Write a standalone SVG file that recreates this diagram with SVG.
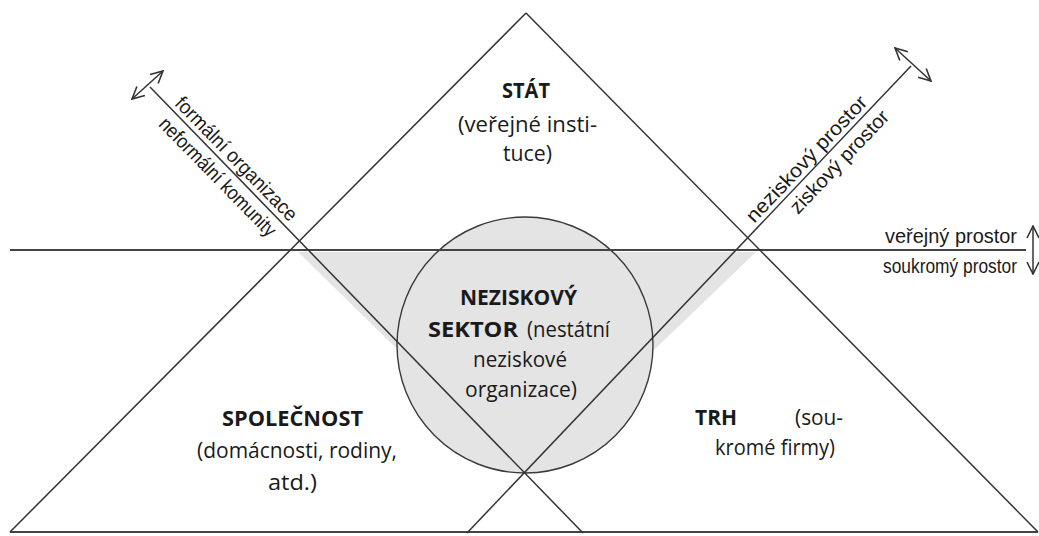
<svg xmlns="http://www.w3.org/2000/svg" width="1039" height="536" viewBox="0 0 1039 536">
<style>
.ln{stroke:#333;stroke-width:1.5;fill:none}
.hl{stroke:#444;stroke-width:2;fill:none}
.ar{stroke:#333;stroke-width:1.5;fill:none;marker-start:url(#ah);marker-end:url(#ah)}
.t{font-family:"Open Sans","Noto Sans",sans-serif;font-size:22px;fill:#1a1a1a}
.b{font-weight:bold}
.sm{font-size:21px}
.s{font-family:"Liberation Sans",Arial,sans-serif;font-size:20px;fill:#1a1a1a}
</style>
<defs>
<marker id="ah" viewBox="0 0 14 14" refX="13" refY="7" markerWidth="14" markerHeight="14" markerUnits="userSpaceOnUse" orient="auto-start-reverse">
<path d="M1,1 L13,7 L1,13" fill="none" stroke="#333" stroke-width="1.6"/>
</marker>
</defs>
<rect width="1039" height="536" fill="#fff"/>
<g id="shading">
<polygon points="298,252 756,252 525,474" fill="#e4e4e4"/>
</g>
<g id="neziskovy-sektor-shape">
<circle cx="525" cy="345" r="128" fill="#e4e4e4" stroke="#3a3a3a" stroke-width="1.4"/>
</g>
<g id="connectors">
<line class="hl" x1="10" y1="250" x2="1026" y2="250"/>
<line class="hl" x1="10" y1="532" x2="1038" y2="532"/>
<line class="ln" x1="526" y1="13" x2="10" y2="532"/>
<line class="ln" x1="526" y1="13" x2="1038" y2="532"/>
<line class="ln" x1="150" y1="87" x2="583" y2="533"/>
<line class="ln" x1="911" y1="66" x2="467" y2="533"/>
<line class="ar" x1="132" y1="99" x2="163" y2="71"/>
<line class="ar" x1="895" y1="48" x2="931" y2="81"/>
<line class="ar" x1="1033" y1="226" x2="1033" y2="274"/>
</g>
<g id="stat">
<text class="t b" x="502" y="98" textLength="48" lengthAdjust="spacingAndGlyphs">STÁT</text>
<text class="t sm" x="458" y="132" textLength="139" lengthAdjust="spacingAndGlyphs">(veřejné insti-</text>
<text class="t sm" x="503" y="161" textLength="49" lengthAdjust="spacingAndGlyphs">tuce)</text>
</g>
<g id="spolecnost">
<text class="t b" x="222" y="426" textLength="141" lengthAdjust="spacingAndGlyphs">SPOLEČNOST</text>
<text class="t" x="197" y="458" textLength="200" lengthAdjust="spacingAndGlyphs">(domácnosti, rodiny,</text>
<text class="t" x="268" y="490" textLength="49" lengthAdjust="spacingAndGlyphs">atd.)</text>
</g>
<g id="trh">
<text class="t b" x="695" y="425" textLength="42" lengthAdjust="spacingAndGlyphs">TRH</text>
<text class="t" x="795" y="425" textLength="48" lengthAdjust="spacingAndGlyphs">(sou-</text>
<text class="t" x="715" y="455" textLength="120" lengthAdjust="spacingAndGlyphs">kromé firmy)</text>
</g>
<g id="neziskovy-sektor">
<text class="t b" x="460" y="305" textLength="117" lengthAdjust="spacingAndGlyphs">NEZISKOVÝ</text>
<text class="t b" x="428" y="337" textLength="90" lengthAdjust="spacingAndGlyphs">SEKTOR</text>
<text class="t" x="527" y="337" textLength="83" lengthAdjust="spacingAndGlyphs">(nestátní</text>
<text class="t" x="473" y="367" textLength="94" lengthAdjust="spacingAndGlyphs">neziskové</text>
<text class="t" x="465" y="397" textLength="112" lengthAdjust="spacingAndGlyphs">organizace)</text>
</g>
<g id="axis-formalni">
<g transform="translate(228,167) rotate(45.6)">
<text class="s" x="0" y="-5" text-anchor="middle" textLength="165" lengthAdjust="spacingAndGlyphs">formální organizace</text>
<text class="s" x="0" y="21" text-anchor="middle" textLength="158" lengthAdjust="spacingAndGlyphs">neformální komunity</text>
</g>
</g>
<g id="axis-ziskovy">
<g transform="translate(815,167) rotate(-46.5)">
<text class="s" x="0" y="-5" text-anchor="middle" textLength="166" lengthAdjust="spacingAndGlyphs">neziskový prostor</text>
</g>
<g transform="translate(829,152) rotate(-46.5)">
<text class="s" x="0" y="21" text-anchor="middle" textLength="134" lengthAdjust="spacingAndGlyphs">ziskový prostor</text>
</g>
</g>
<g id="axis-verejny">
<text class="s" x="885" y="243" textLength="132" lengthAdjust="spacingAndGlyphs">veřejný prostor</text>
<text class="s" x="883" y="273" textLength="134" lengthAdjust="spacingAndGlyphs">soukromý prostor</text>
</g>
</svg>
